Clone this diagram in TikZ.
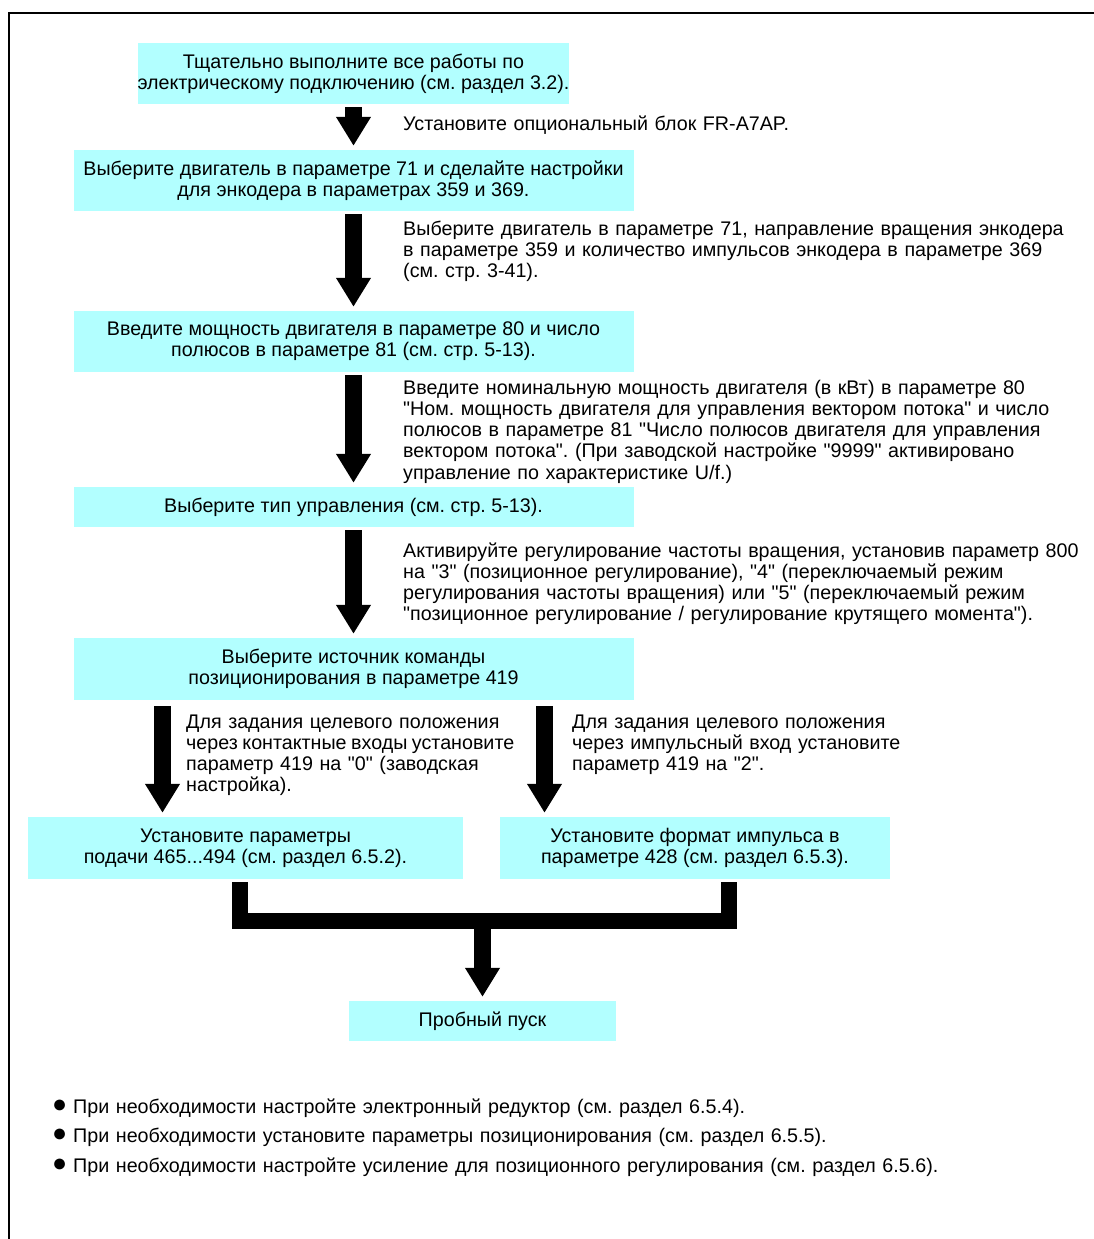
\documentclass[tikz,border=0pt]{standalone}
\usepackage{fontspec}
\setmainfont{Liberation Sans}[Ligatures=TeXOff]
\usetikzlibrary{arrows.meta,positioning,calc}
\definecolor{Aqua}{HTML}{B2FFFF}
\newcommand{\flowfont}{\fontsize{19.7}{21.3}\selectfont\frenchspacing}
\newcommand{\hintdot}{\makebox[21pt][l]{\raisebox{1pt}{\fontsize{25}{25}\selectfont ●}}}

\tikzset{
  stepbox/.style={fill=Aqua, draw=none, inner sep=0pt, align=center, font=\flowfont},
  note/.style={anchor=base west, inner sep=0pt, text width=690pt, align=left, font=\flowfont},
  bigarrow/.style={line width=17pt, -{Triangle[width=33pt,length=29pt]}, shorten <=3pt, shorten >=4pt},
  bar/.style={line width=16pt, line join=miter, shorten <=3pt, shorten >=3pt}
}

\begin{document}
\begin{tikzpicture}[x=1pt, y=-1pt]
        \useasboundingbox (0,0) rectangle (1094,1239);
        \draw[line width=2pt] (8.7,1239) -- (8.7,13) -- (1094,13);

        % main column
        \node[stepbox, minimum width=430pt, minimum height=61pt] (wiring) at (353.5,73.5)
          {Тщательно выполните все работы по\\электрическому подключению (см. раздел 3.2).};
        \node[stepbox, minimum width=560pt, minimum height=61pt] (motor) at (353.5,180.5)
          {Выберите двигатель в параметре 71 и сделайте настройки\\для энкодера в параметрах 359 и 369.};
        \node[stepbox, minimum width=560pt, minimum height=61pt] (power) at (353.5,341.5)
          {Введите мощность двигателя в параметре 80 и число\\полюсов в параметре 81 (см. стр. 5-13).};
        \node[stepbox, minimum width=560pt, minimum height=40pt] (control) at (353.5,507)
          {Выберите тип управления (см. стр. 5-13).};
        \node[stepbox, minimum width=560pt, minimum height=62pt] (source) at (353.5,669)
          {Выберите источник команды\\позиционирования в параметре 419};
        \node[stepbox, minimum width=435pt, minimum height=62pt] (feed) at (245.5,848)
          {Установите параметры\\подачи 465...494 (см. раздел 6.5.2).};
        \node[stepbox, minimum width=390pt, minimum height=62pt] (pulse) at (695,848)
          {Установите формат импульса в\\параметре 428 (см. раздел 6.5.3).};
        \node[stepbox, minimum width=267pt, minimum height=40pt] (trial) at (482.5,1021)
          {Пробный пуск};

        % arrows
        \draw[bigarrow] (wiring) -- (motor);
        \draw[bigarrow] (motor) -- (power);
        \draw[bigarrow] (power) -- (control);
        \draw[bigarrow] (control) -- (source);
        \coordinate (lft) at (162.5,0);
        \coordinate (rgt) at (544.5,0);
        \draw[bigarrow, shorten <=6pt] (source.south -| lft) -- (feed.north -| lft);
        \draw[bigarrow, shorten <=6pt] (source.south -| rgt) -- (pulse.north -| rgt);
        \coordinate (jl) at (240,921);
        \coordinate (jr) at (728.5,921);
        \coordinate (jc) at (482.5,921);
        \draw[bar] (feed.south -| jl) -- (jl) -- (jr) -- (pulse.south -| jr);
        \draw[bigarrow] (jc) -- (trial);

        % notes
        \node[note] (optnote) at (403,130) {Установите опциональный блок FR-A7AP.};
        \node[note] (motornote) at (403,235)
          {Выберите двигатель в параметре 71, направление вращения энкодера\\в параметре 359 и количество импульсов энкодера в параметре 369\\(см. стр. 3-41).};
        \node[note] (powernote) at (403,394)
          {Введите номинальную мощность двигателя (в кВт) в параметре 80\\"Ном. мощность двигателя для управления вектором потока" и число\\полюсов в параметре 81 "Число полюсов двигателя для управления\\вектором потока". (При заводской настройке "9999" активировано\\управление по характеристике U/f.)};
        \node[note] (controlnote) at (403,557)
          {Активируйте регулирование частоты вращения, установив параметр 800\\на "3" (позиционное регулирование), "4" (переключаемый режим\\регулирования частоты вращения) или "5" (переключаемый режим\\"позиционное регулирование / регулирование крутящего момента").};
        \node[note, text width=380pt] (feednote) at (186,728)
          {Для задания целевого положения\\{\spaceskip=4.5pt\relax через контактные входы установите}\\параметр 419 на "0" (заводская\\настройка).};
        \node[note, text width=380pt] (pulsenote) at (572,728)
          {Для задания целевого положения\\через импульсный вход установите\\параметр 419 на "2".};

        % bullets
        \node[note, text width=1000pt, font=\fontsize{19.7}{29.5}\selectfont\frenchspacing] (hints) at (52,1113)
          {\hintdot При необходимости настройте электронный редуктор (см. раздел 6.5.4).\\
           \hintdot При необходимости установите параметры позиционирования (см. раздел 6.5.5).\\
           \hintdot При необходимости настройте усиление для позиционного регулирования (см. раздел 6.5.6).};
      \end{tikzpicture}
\end{document}
